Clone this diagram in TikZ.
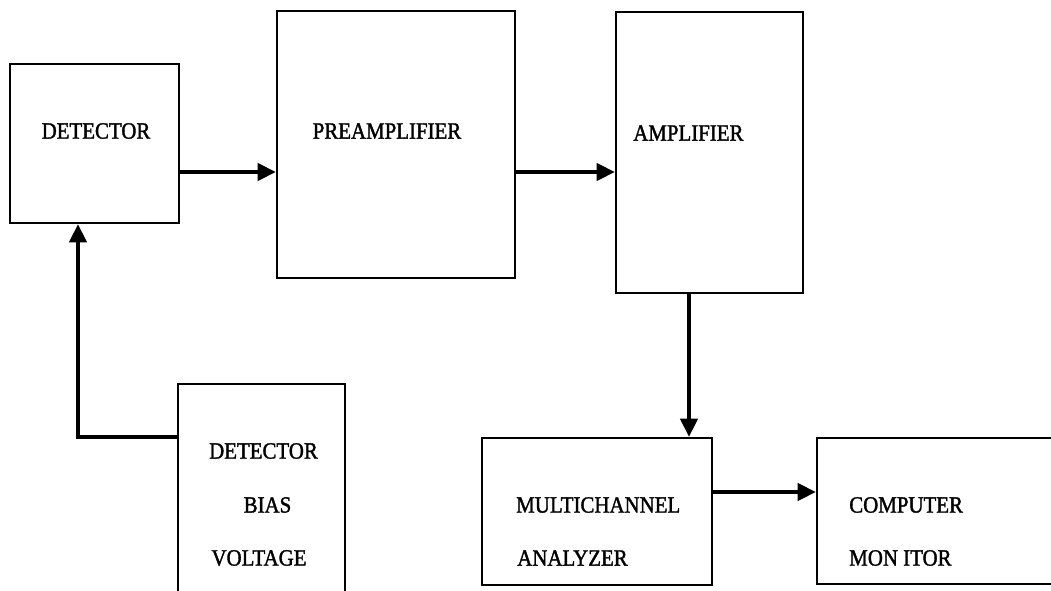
\documentclass[tikz,border=0pt]{standalone}
\usepackage{fontspec}
\setmainfont{Liberation Serif}[FakeStretch=0.9,FakeBold=1.5]
\usepackage{tikz}
\usetikzlibrary{arrows.meta}

\tikzset{
  block/.style={draw, line width=1.4pt, rectangle, inner sep=0pt},
  conn/.style={line width=3pt, -{Triangle[length=13pt,width=12pt]}},
  lbl/.style={inner sep=0pt, font=\fontsize{16.5}{18}\selectfont}
}

\begin{document}
\begin{tikzpicture}[x=0.025cm,y=-0.025cm]

 \useasboundingbox (0,0) rectangle (1051,591); % la taille de l'image

 % les blocs
 \node[block, minimum width=4.225cm, minimum height=3.975cm] (det) at (94.5,143.5) {};
 \node[block, minimum width=5.95cm, minimum height=6.675cm] (preamp) at (396,144.5) {};
 \node[block, minimum width=4.675cm, minimum height=7.025cm] (amp) at (709.5,152.5) {};
 \node[block, minimum width=4.175cm, minimum height=5.4cm] (bias) at (261.5,492) {};
 \node[block, minimum width=5.75cm, minimum height=3.675cm] (mca) at (597,511.5) {};
 \node[block, minimum width=6.075cm, minimum height=3.65cm] (comp) at (938.5,511) {};

 % les textes
 \node[lbl] (detlbl) at (96,131) {DETECTOR};
 \node[lbl] (preamplbl) at (387,131) {PREAMPLIFIER};
 \node[lbl, anchor=west] (amplbl) at (633,133) {AMPLIFIER};
 \node[lbl] (biaslbla) at (263.5,451) {DETECTOR};
 \node[lbl] (biaslblb) at (267.5,505) {BIAS};
 \node[lbl] (biaslblc) at (259,558) {VOLTAGE};
 \node[lbl, anchor=west] (mcalbla) at (516,505) {MULTICHANNEL};
 \node[lbl, anchor=west] (mcalblb) at (517,558) {ANALYZER};
 \node[lbl, anchor=west] (complbla) at (849,505) {COMPUTER};
 \node[lbl, anchor=west] (complblb) at (849,558) {MON ITOR};

 % les fleches
 \draw[conn] (det.east |- 0,172) -- (preamp.west |- 0,172);
 \draw[conn] (preamp.east |- 0,172) -- (amp.west |- 0,172);
 \draw[conn] (amp.south -| 689,0) -- (mca.north -| 689,0);
 \draw[conn] (mca.east |- 0,492) -- (comp.west |- 0,492);
 \draw[conn] (bias.west |- 0,437) -| (det.south -| 78,0);

\end{tikzpicture}
\end{document}
